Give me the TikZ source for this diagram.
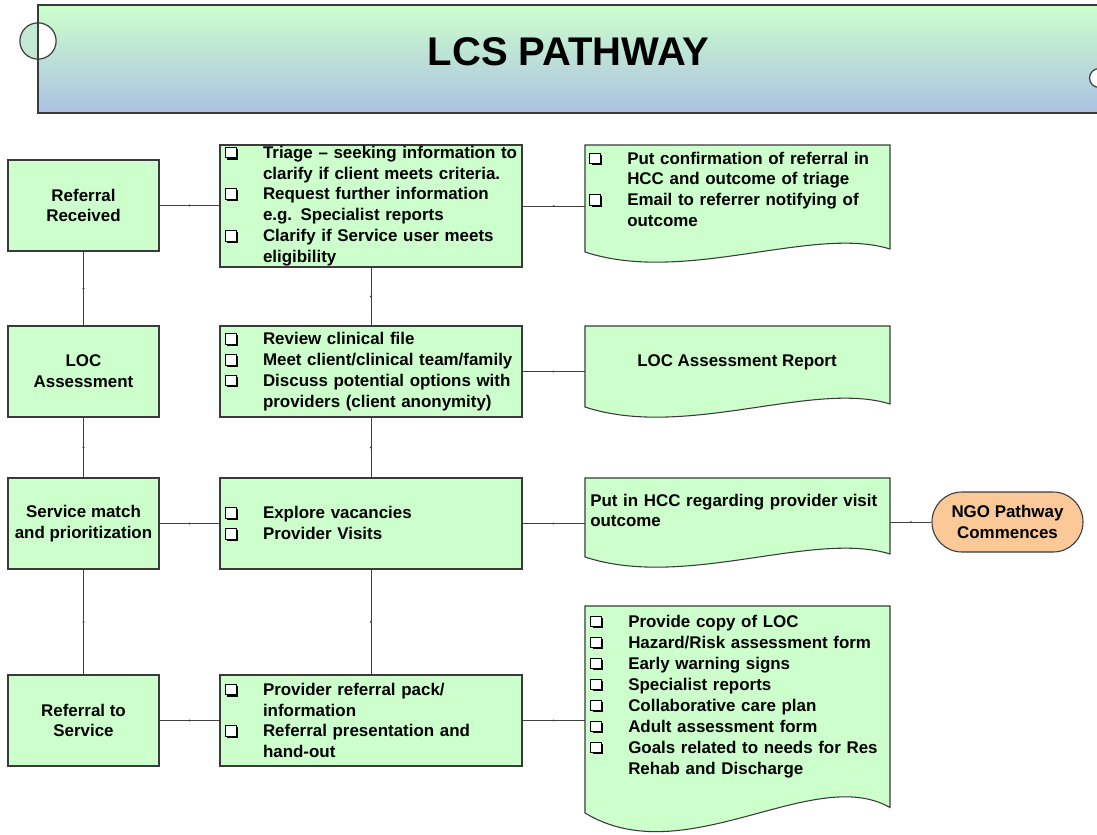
\documentclass[tikz,border=0pt]{standalone}
\usepackage{fontspec}
\setmainfont{Liberation Sans}
\usetikzlibrary{decorations.markings}
\definecolor{boxfill}{HTML}{CCFFCC}
\definecolor{boxline}{HTML}{3A3A3A}
\definecolor{lineclr}{HTML}{404040}
\definecolor{ngofill}{HTML}{FBC997}
\definecolor{bantop}{HTML}{CCFFCC}
\definecolor{banbot}{HTML}{ABC1E3}
\definecolor{curl}{HTML}{C3E8D4}
\newcommand\cbx{\tikz[baseline=0pt, x=1pt, y=1pt]{%
  \fill[black] (1.4,-0.9) rectangle (9.4,7.1);
  \filldraw[fill=white, draw=black, line width=0.8pt] (0,0.3) rectangle (8,8.3);}}
\newcommand\ck{\makebox[28.5pt][l]{\cbx}}
\newcommand\nk{\hspace*{28.5pt}}
\newcommand\docshape[5]{%
  \filldraw[docsty] (#1,#2) -- (#3,#2) -- (#3,{#4-5*#5})
    .. controls ({#1+228},{#4-45*#5}) and ({#1+100},{#4+55*#5}) .. (#1,#4) -- cycle;}
\begin{document}
\begin{tikzpicture}[x=0.75pt,y=-0.75pt,
  font=\fontsize{12.7}{15.6}\selectfont\bfseries,
  box/.style={draw=boxline, fill=boxfill, line width=0.8pt},
  lbox/.style={box, minimum width=113.25pt, minimum height=68.25pt, inner sep=0pt, align=center},
  mbox/.style={box, text width=219pt, inner xsep=3.75pt, inner ysep=0pt, minimum height=68.25pt, align=left},
  docsty/.style={draw=boxline, fill=boxfill, line width=0.8pt},
  docarea/.style={inner sep=0pt, minimum width=228.75pt},
  doctext/.style={inner sep=0pt, text width=218pt, align=left, anchor=base west},
  conn/.style={draw=lineclr, line width=0.75pt, postaction={decorate},
    decoration={markings, mark=at position 0.5 with {\fill[lineclr] (0,0) circle (0.8pt);}}},
  ngo/.style={draw=boxline, fill=ngofill, line width=0.8pt, minimum width=113.25pt, minimum height=45pt,
    rounded corners=22.4pt, inner sep=0pt, align=center}
]
\useasboundingbox (0,0) rectangle (1097,835);
% banner
\shade[top color=bantop, bottom color=banbot] (38,5) rectangle (1110,113);
\begin{scope}
  \clip (10,10) rectangle (38,70);
  \fill[curl] (38,41) circle (13.6pt);
\end{scope}
\begin{scope}
  \clip (38,10) rectangle (70,70);
  \fill[white] (38,41) circle (13.6pt);
\end{scope}
\draw[boxline, line width=0.9pt] (38,5) rectangle (1110,113);
\draw[boxline, line width=0.9pt] (38,41) circle (13.6pt);
\filldraw[fill=white, draw=boxline, line width=0.9pt] (1099,78) circle (7.1pt);
\node[font=\fontsize{30}{36}\selectfont\bfseries] (title) at (568.5,52) {LCS PATHWAY};

% left column
\node[lbox] (rr) at (83.5,205.5) {Referral\\Received};
\node[lbox] (loc) at (83.5,371.5) {LOC\\Assessment};
\node[lbox] (sm) at (83.5,523.5) {Service match\\and prioritization};
\node[lbox] (rs) at (83.5,720.5) {Referral to\\Service};

% middle column
\node[mbox, minimum height=91.5pt] (tri) at (371,206) {\ck\mbox{Triage – seeking information to}\\
  \nk clarify if client meets criteria.\\
  \ck Request further information\\
  \nk e.g. Specialist reports\\
  \ck Clarify if Service user meets\\
  \nk eligibility};
\node[mbox] (rev) at (371,371.5) {\ck Review clinical file\\
  \ck\mbox{Meet client/clinical team/family}\\
  \ck Discuss potential options with\\
  \nk providers (client anonymity)};
\node[mbox] (exp) at (371,523.5) {\ck Explore vacancies\\
  \ck Provider Visits};
\node[mbox] (prov) at (371,720.5) {\ck Provider referral pack/\\
  \nk information\\
  \ck Referral presentation and\\
  \nk hand-out};

% documents
\docshape{585}{145}{890}{252}{0.6}
\docshape{585}{326}{890}{407}{0.6}
\docshape{585}{478}{890}{557}{0.6}
\docshape{585}{606}{890}{813}{1.1}
\node[docarea, minimum height=80.25pt] (d1) at (737.5,198.5) {};
\node[docarea, minimum height=60.75pt] (d2) at (737.5,366.5) {};
\node[docarea, minimum height=59.25pt] (d3) at (737.5,517.5) {};
\node[docarea, minimum height=155.25pt] (d4) at (737.5,709.5) {};
\node[doctext] (d1t) at (589,164.1) {\ck Put confirmation of referral in\\
  \nk HCC and outcome of triage\\
  \ck Email to referrer notifying of\\
  \nk outcome};
\node[inner sep=0pt, anchor=base] (d2t) at (737,366.1) {LOC Assessment Report};
\node[doctext] (d3t) at (590,506.1) {\mbox{Put in HCC regarding provider visit}\\outcome};
\node[doctext, font=\fontsize{12.7}{15.75}\selectfont\bfseries] (d4t) at (590,627.1) {\ck Provide copy of LOC\\
  \ck Hazard/Risk assessment form\\
  \ck Early warning signs\\
  \ck Specialist reports\\
  \ck Collaborative care plan\\
  \ck Adult assessment form\\
  \ck\mbox{Goals related to needs for Res}\\
  \nk Rehab and Discharge};

% terminator
\node[ngo] (ngo) at (1007.5,522) {NGO Pathway\\Commences};

% connectors
\draw[conn] (rr.east) -- (rr.east -| tri.west);
\draw[conn] (tri.east) -- (tri.east -| d1.west);
\draw[conn] (rev.east) -- (rev.east -| d2.west);
\draw[conn] (sm.east) -- (sm.east -| exp.west);
\draw[conn] (exp.east) -- (exp.east -| d3.west);
\draw[conn] (ngo.west -| d3.east) -- (ngo.west);
\draw[conn] (rs.east) -- (rs.east -| prov.west);
\draw[conn] (prov.east) -- (prov.east -| d4.west);
\draw[conn] (rr.south) -- (loc.north);
\draw[conn] (loc.south) -- (sm.north);
\draw[conn] (sm.south) -- (rs.north);
\draw[conn] (tri.south) -- (rev.north);
\draw[conn] (rev.south) -- (exp.north);
\draw[conn] (exp.south) -- (prov.north);
\end{tikzpicture}
\end{document}
